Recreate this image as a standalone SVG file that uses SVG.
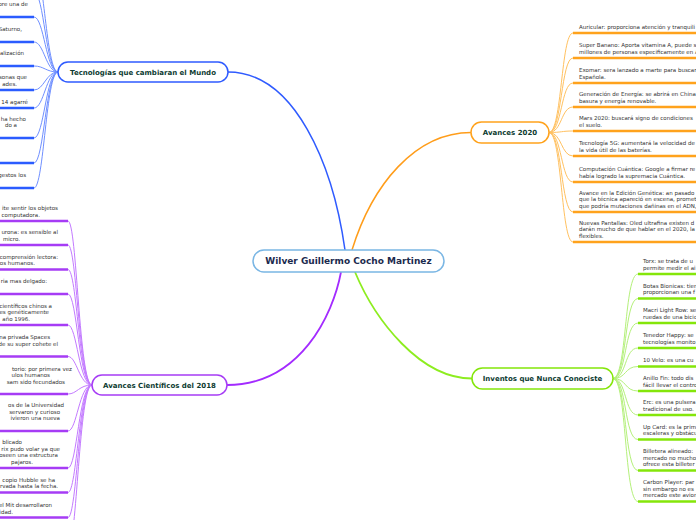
<svg xmlns="http://www.w3.org/2000/svg" width="696" height="520" viewBox="0 0 696 520">
<style>
.t{font-family:"DejaVu Sans",Verdana,sans-serif;font-size:5.5px;fill:#333}
.e{text-anchor:end}
.bt{font-family:"DejaVu Sans",Verdana,sans-serif;font-size:7px;font-weight:bold;fill:#0d3b31;text-anchor:middle}
.ct{font-family:"DejaVu Sans",Verdana,sans-serif;font-size:9px;font-weight:bold;fill:#1b2a4e;text-anchor:middle}
.c{fill:none}
.cb{stroke:#6f8fff;stroke-width:1}
.co{stroke:#ffc160;stroke-width:1}
.cp{stroke:#c37aff;stroke-width:1}
.cg{stroke:#b4f07a;stroke-width:1}
.ub{stroke:#2b5cff;stroke-width:2.5}
.uo{stroke:#ffa21c;stroke-width:2.5}
.up{stroke:#a63cf5;stroke-width:2.5}
.ug{stroke:#84e60a;stroke-width:2.5}
.n{fill:#fff;stroke-width:1.5}
</style>
<g id="connectors" class="c">
<path d="M345 250C333 165 295 72 228 72" stroke="#2f5bff" stroke-width="1.5"/>
<path d="M352 250C372 185 415 132.5 471 132.5" stroke="#ff9d1a" stroke-width="1.5"/>
<path d="M341 272C333 315 300 385 227 385" stroke="#a32bff" stroke-width="1.8"/>
<path d="M355 272C375 320 420 378.5 472 378.5" stroke="#8ded1f" stroke-width="1.8"/>
<g class="cb">
<path d="M58 72C46 72 44 -35 34 -35"/><path d="M58 72C46 72 44 -8 34 -8"/>
<path d="M58 72C46 72 44 17 34 17"/><path d="M58 72C46 72 44 42 34 42"/>
<path d="M58 72C46 72 44 66 34 66"/><path d="M58 72C46 72 44 90 34 90"/>
<path d="M58 72C46 72 44 108 34 108"/><path d="M58 72C46 72 44 138 34 138"/>
<path d="M58 72C46 72 44 163 34 163"/><path d="M58 72C46 72 44 188 34 188"/>
</g>
<g class="co">
<path d="M549 132.5C562 132.5 561 33 573 33"/><path d="M549 132.5C562 132.5 561 58 573 58"/>
<path d="M549 132.5C562 132.5 561 83 573 83"/><path d="M549 132.5C562 132.5 561 107 573 107"/>
<path d="M549 132.5C562 132.5 561 131 573 131"/><path d="M549 132.5C562 132.5 561 156 573 156"/>
<path d="M549 132.5C562 132.5 561 182 573 182"/><path d="M549 132.5C562 132.5 561 212 573 212"/>
<path d="M549 132.5C562 132.5 561 242 573 242"/>
</g>
<g class="cp">
<path d="M92 385C79 385 77 221 68 221"/><path d="M92 385C79 385 77 245 68 245"/>
<path d="M92 385C79 385 77 269.5 68 269.5"/><path d="M92 385C79 385 77 294 68 294"/>
<path d="M92 385C79 385 77 325 68 325"/><path d="M92 385C79 385 77 356.5 68 356.5"/>
<path d="M92 385C79 385 77 394 68 394"/><path d="M92 385C79 385 77 431 68 431"/>
<path d="M92 385C79 385 77 468 68 468"/><path d="M92 385C79 385 77 492.5 68 492.5"/>
<path d="M92 385C79 385 77 517.5 68 517.5"/><path d="M92 385C79 385 77 548 68 548"/>
</g>
<g class="cg">
<path d="M613 378.5C627 378.5 624 274 638 274"/><path d="M613 378.5C627 378.5 624 298.5 638 298.5"/>
<path d="M613 378.5C627 378.5 624 323 638 323"/><path d="M613 378.5C627 378.5 624 348 638 348"/>
<path d="M613 378.5C627 378.5 624 366.5 638 366.5"/><path d="M613 378.5C627 378.5 624 391 638 391"/>
<path d="M613 378.5C627 378.5 624 415 638 415"/><path d="M613 378.5C627 378.5 624 439.5 638 439.5"/>
<path d="M613 378.5C627 378.5 624 470.5 638 470.5"/><path d="M613 378.5C627 378.5 624 501.5 638 501.5"/>
</g>
</g>

<g id="center"><rect class="n" x="253" y="250" width="191" height="22" rx="11" stroke="#7ab6e4"/><text class="ct" x="348.5" y="264.3">Wilver Guillermo Cocho Martinez</text></g>
<g id="tecnologias"><rect class="n" x="58" y="62" width="170" height="20" rx="10" stroke="#2f5bff"/><text class="bt" x="143" y="74.5">Tecnologías que cambiaran el Mundo</text></g>
<g id="avances2020"><rect class="n" x="471" y="122" width="78" height="21" rx="10.5" stroke="#ffa21c"/><text class="bt" x="510" y="135">Avances 2020</text></g>
<g id="avances2018"><rect class="n" x="92" y="375" width="135" height="20" rx="10" stroke="#a63cf5"/><text class="bt" x="159.5" y="387.5">Avances Científicos del 2018</text></g>
<g id="inventos"><rect class="n" x="472" y="368" width="141" height="21" rx="10.5" stroke="#84e60a"/><text class="bt" x="542.5" y="381">Inventos que Nunca Conociste</text></g>

<g id="tec-0"><line class="ub" x1="-10" y1="-35" x2="34" y2="-35"/></g>
<g id="tec-1"><line class="ub" x1="-10" y1="-8" x2="34" y2="-8"/></g>
<g id="tec-2"><line class="ub" x1="-10" y1="17" x2="34" y2="17"/><text class="t e" x="28" y="6">ore una de</text></g>
<g id="tec-3"><line class="ub" x1="-10" y1="42" x2="34" y2="42"/><text class="t e" x="22" y="31">Saturno,</text></g>
<g id="tec-4"><line class="ub" x1="-10" y1="66" x2="34" y2="66"/><text class="t e" x="24" y="55">alización</text></g>
<g id="tec-5"><line class="ub" x1="-10" y1="90" x2="34" y2="90"/><text class="t e" x="27" y="79">sonas que</text><text class="t e" x="17" y="85.5">ades.</text></g>
<g id="tec-6"><line class="ub" x1="-10" y1="108" x2="34" y2="108"/><text class="t e" x="28" y="103.5">14 agarré</text></g>
<g id="tec-7"><line class="ub" x1="-10" y1="138" x2="34" y2="138"/><text class="t e" x="26" y="120.5">ha hecho</text><text class="t e" x="17" y="127">do a</text></g>
<g id="tec-8"><line class="ub" x1="-10" y1="163" x2="34" y2="163"/></g>
<g id="tec-9"><line class="ub" x1="-10" y1="188" x2="34" y2="188"/><text class="t e" x="26" y="177">gestos los</text></g>

<g id="av-1"><line class="uo" x1="573" y1="33" x2="710" y2="33"/><text class="t" x="579" y="28.5">Auricular: proporciona atención y tranquili</text></g>
<g id="av-2"><line class="uo" x1="573" y1="58" x2="710" y2="58"/><text class="t" x="579" y="47">Super Banano: Aporta vitamina A, puede s</text><text class="t" x="579" y="53.5">millones de personas especificamente en A</text></g>
<g id="av-3"><line class="uo" x1="573" y1="83" x2="710" y2="83"/><text class="t" x="579" y="72">Exomar: sera lanzado a marte para buscar</text><text class="t" x="579" y="78.5">Española.</text></g>
<g id="av-4"><line class="uo" x1="573" y1="107" x2="710" y2="107"/><text class="t" x="579" y="96">Generación de Energía: se abrirá en China</text><text class="t" x="579" y="102.5">basura y energía renovable.</text></g>
<g id="av-5"><line class="uo" x1="573" y1="131" x2="710" y2="131"/><text class="t" x="579" y="120">Mars 2020: buscará signo de condiciones</text><text class="t" x="579" y="126.5">el suelo.</text></g>
<g id="av-6"><line class="uo" x1="573" y1="156" x2="710" y2="156"/><text class="t" x="579" y="145">Tecnología 5G: aumentará la velocidad de</text><text class="t" x="579" y="151.5">la vida útil de las baterías.</text></g>
<g id="av-7"><line class="uo" x1="573" y1="182" x2="710" y2="182"/><text class="t" x="579" y="171">Computación Cuántica: Google a firmar re</text><text class="t" x="579" y="177.5">había logrado la supremacia Cuántica.</text></g>
<g id="av-8"><line class="uo" x1="573" y1="212" x2="710" y2="212"/><text class="t" x="579" y="194.5">Avance en la Edición Genética: an pasado</text><text class="t" x="579" y="201">que la técnica apareció en escena, promet</text><text class="t" x="579" y="207.5">que podría mutaciones dañinas en el ADN,</text></g>
<g id="av-9"><line class="uo" x1="573" y1="242" x2="710" y2="242"/><text class="t" x="579" y="224.5">Nuevas Pantallas: Oled ultrafina existen d</text><text class="t" x="579" y="231">darán mucho de que hablar en el 2020, la</text><text class="t" x="579" y="237.5">flexibles.</text></g>

<g id="ac-1"><line class="up" x1="-10" y1="221" x2="68" y2="221"/><text class="t e" x="58" y="210">ite sentir los objetos</text><text class="t e" x="40" y="216.5">computadora.</text></g>
<g id="ac-2"><line class="up" x1="-10" y1="245" x2="68" y2="245"/><text class="t e" x="58" y="234">urona: es sensible al</text><text class="t e" x="20" y="240.5">micro.</text></g>
<g id="ac-3"><line class="up" x1="-10" y1="269.5" x2="68" y2="269.5"/><text class="t e" x="58" y="258.5">comprensión lectora:</text><text class="t e" x="35" y="265">os humanos.</text></g>
<g id="ac-4"><line class="up" x1="-10" y1="294" x2="68" y2="294"/><text class="t e" x="47" y="283">ria mas delgado:</text></g>
<g id="ac-5"><line class="up" x1="-10" y1="325" x2="68" y2="325"/><text class="t e" x="52" y="307.5">científicos chinos a</text><text class="t e" x="49" y="314">ces genéticamente</text><text class="t e" x="30" y="320.5">año 1996.</text></g>
<g id="ac-6"><line class="up" x1="-10" y1="356.5" x2="68" y2="356.5"/><text class="t e" x="50" y="339">na privada Spaces</text><text class="t e" x="58" y="345.5">de su super cohete el</text></g>
<g id="ac-7"><line class="up" x1="-10" y1="394" x2="68" y2="394"/><text class="t e" x="72" y="370.5">torio: por primera vez</text><text class="t e" x="50" y="377">ulos humanos</text><text class="t e" x="65" y="383.5">sam sido fecundados</text></g>
<g id="ac-8"><line class="up" x1="-10" y1="431" x2="68" y2="431"/><text class="t e" x="64" y="407">os de la Universidad</text><text class="t e" x="60" y="413.5">servaron y curioso</text><text class="t e" x="60" y="420">ivieron una nueva</text></g>
<g id="ac-9"><line class="up" x1="-10" y1="468" x2="68" y2="468"/><text class="t e" x="22" y="444">blicado</text><text class="t e" x="60" y="450.5">rix pudo volar ya que</text><text class="t e" x="58" y="457">oseen una estructura</text><text class="t e" x="33" y="463.5">pajaros.</text></g>
<g id="ac-10"><line class="up" x1="-10" y1="492.5" x2="68" y2="492.5"/><text class="t e" x="55" y="481.5">copio Hubble se ha</text><text class="t e" x="58" y="488">rvada hasta la fecha.</text></g>
<g id="ac-11"><line class="up" x1="-10" y1="517.5" x2="68" y2="517.5"/><text class="t e" x="52" y="507">el Mit desarrollaron</text><text class="t e" x="13" y="513.5">idad.</text></g>

<g id="in-1"><line class="ug" x1="638" y1="274" x2="710" y2="274"/><text class="t" x="643" y="263">Torx: se trata de u</text><text class="t" x="643" y="269.5">permite medir el ai</text></g>
<g id="in-2"><line class="ug" x1="638" y1="298.5" x2="710" y2="298.5"/><text class="t" x="643" y="287.5">Botas Bionicas: tien</text><text class="t" x="643" y="294">proporcionan una f</text></g>
<g id="in-3"><line class="ug" x1="638" y1="323" x2="710" y2="323"/><text class="t" x="643" y="312">Macri Light Row: se</text><text class="t" x="643" y="318.5">ruedas de una bicic</text></g>
<g id="in-4"><line class="ug" x1="638" y1="348" x2="710" y2="348"/><text class="t" x="643" y="337">Tenedor Happy: se</text><text class="t" x="643" y="343.5">tecnologías monito</text></g>
<g id="in-5"><line class="ug" x1="638" y1="366.5" x2="710" y2="366.5"/><text class="t" x="643" y="362">10 Velo: es una cu</text></g>
<g id="in-6"><line class="ug" x1="638" y1="391" x2="710" y2="391"/><text class="t" x="643" y="380">Anillo Fin: todo dis</text><text class="t" x="643" y="386.5">fácil llevar el contro</text></g>
<g id="in-7"><line class="ug" x1="638" y1="415" x2="710" y2="415"/><text class="t" x="643" y="404">Erc: es una pulsera</text><text class="t" x="643" y="410.5">tradicional de uso.</text></g>
<g id="in-8"><line class="ug" x1="638" y1="439.5" x2="710" y2="439.5"/><text class="t" x="643" y="428.5">Up Card: es la prim</text><text class="t" x="643" y="435">escaleras y obstácu</text></g>
<g id="in-9"><line class="ug" x1="638" y1="470.5" x2="710" y2="470.5"/><text class="t" x="643" y="453">Billetera alineado:</text><text class="t" x="643" y="459.5">mercado no mucho</text><text class="t" x="643" y="466">ofrece esta billeter</text></g>
<g id="in-10"><line class="ug" x1="638" y1="501.5" x2="710" y2="501.5"/><text class="t" x="643" y="484">Carbon Player: par</text><text class="t" x="643" y="490.5">sin embargo no es</text><text class="t" x="643" y="497">mercado este avion</text></g>
</svg>
